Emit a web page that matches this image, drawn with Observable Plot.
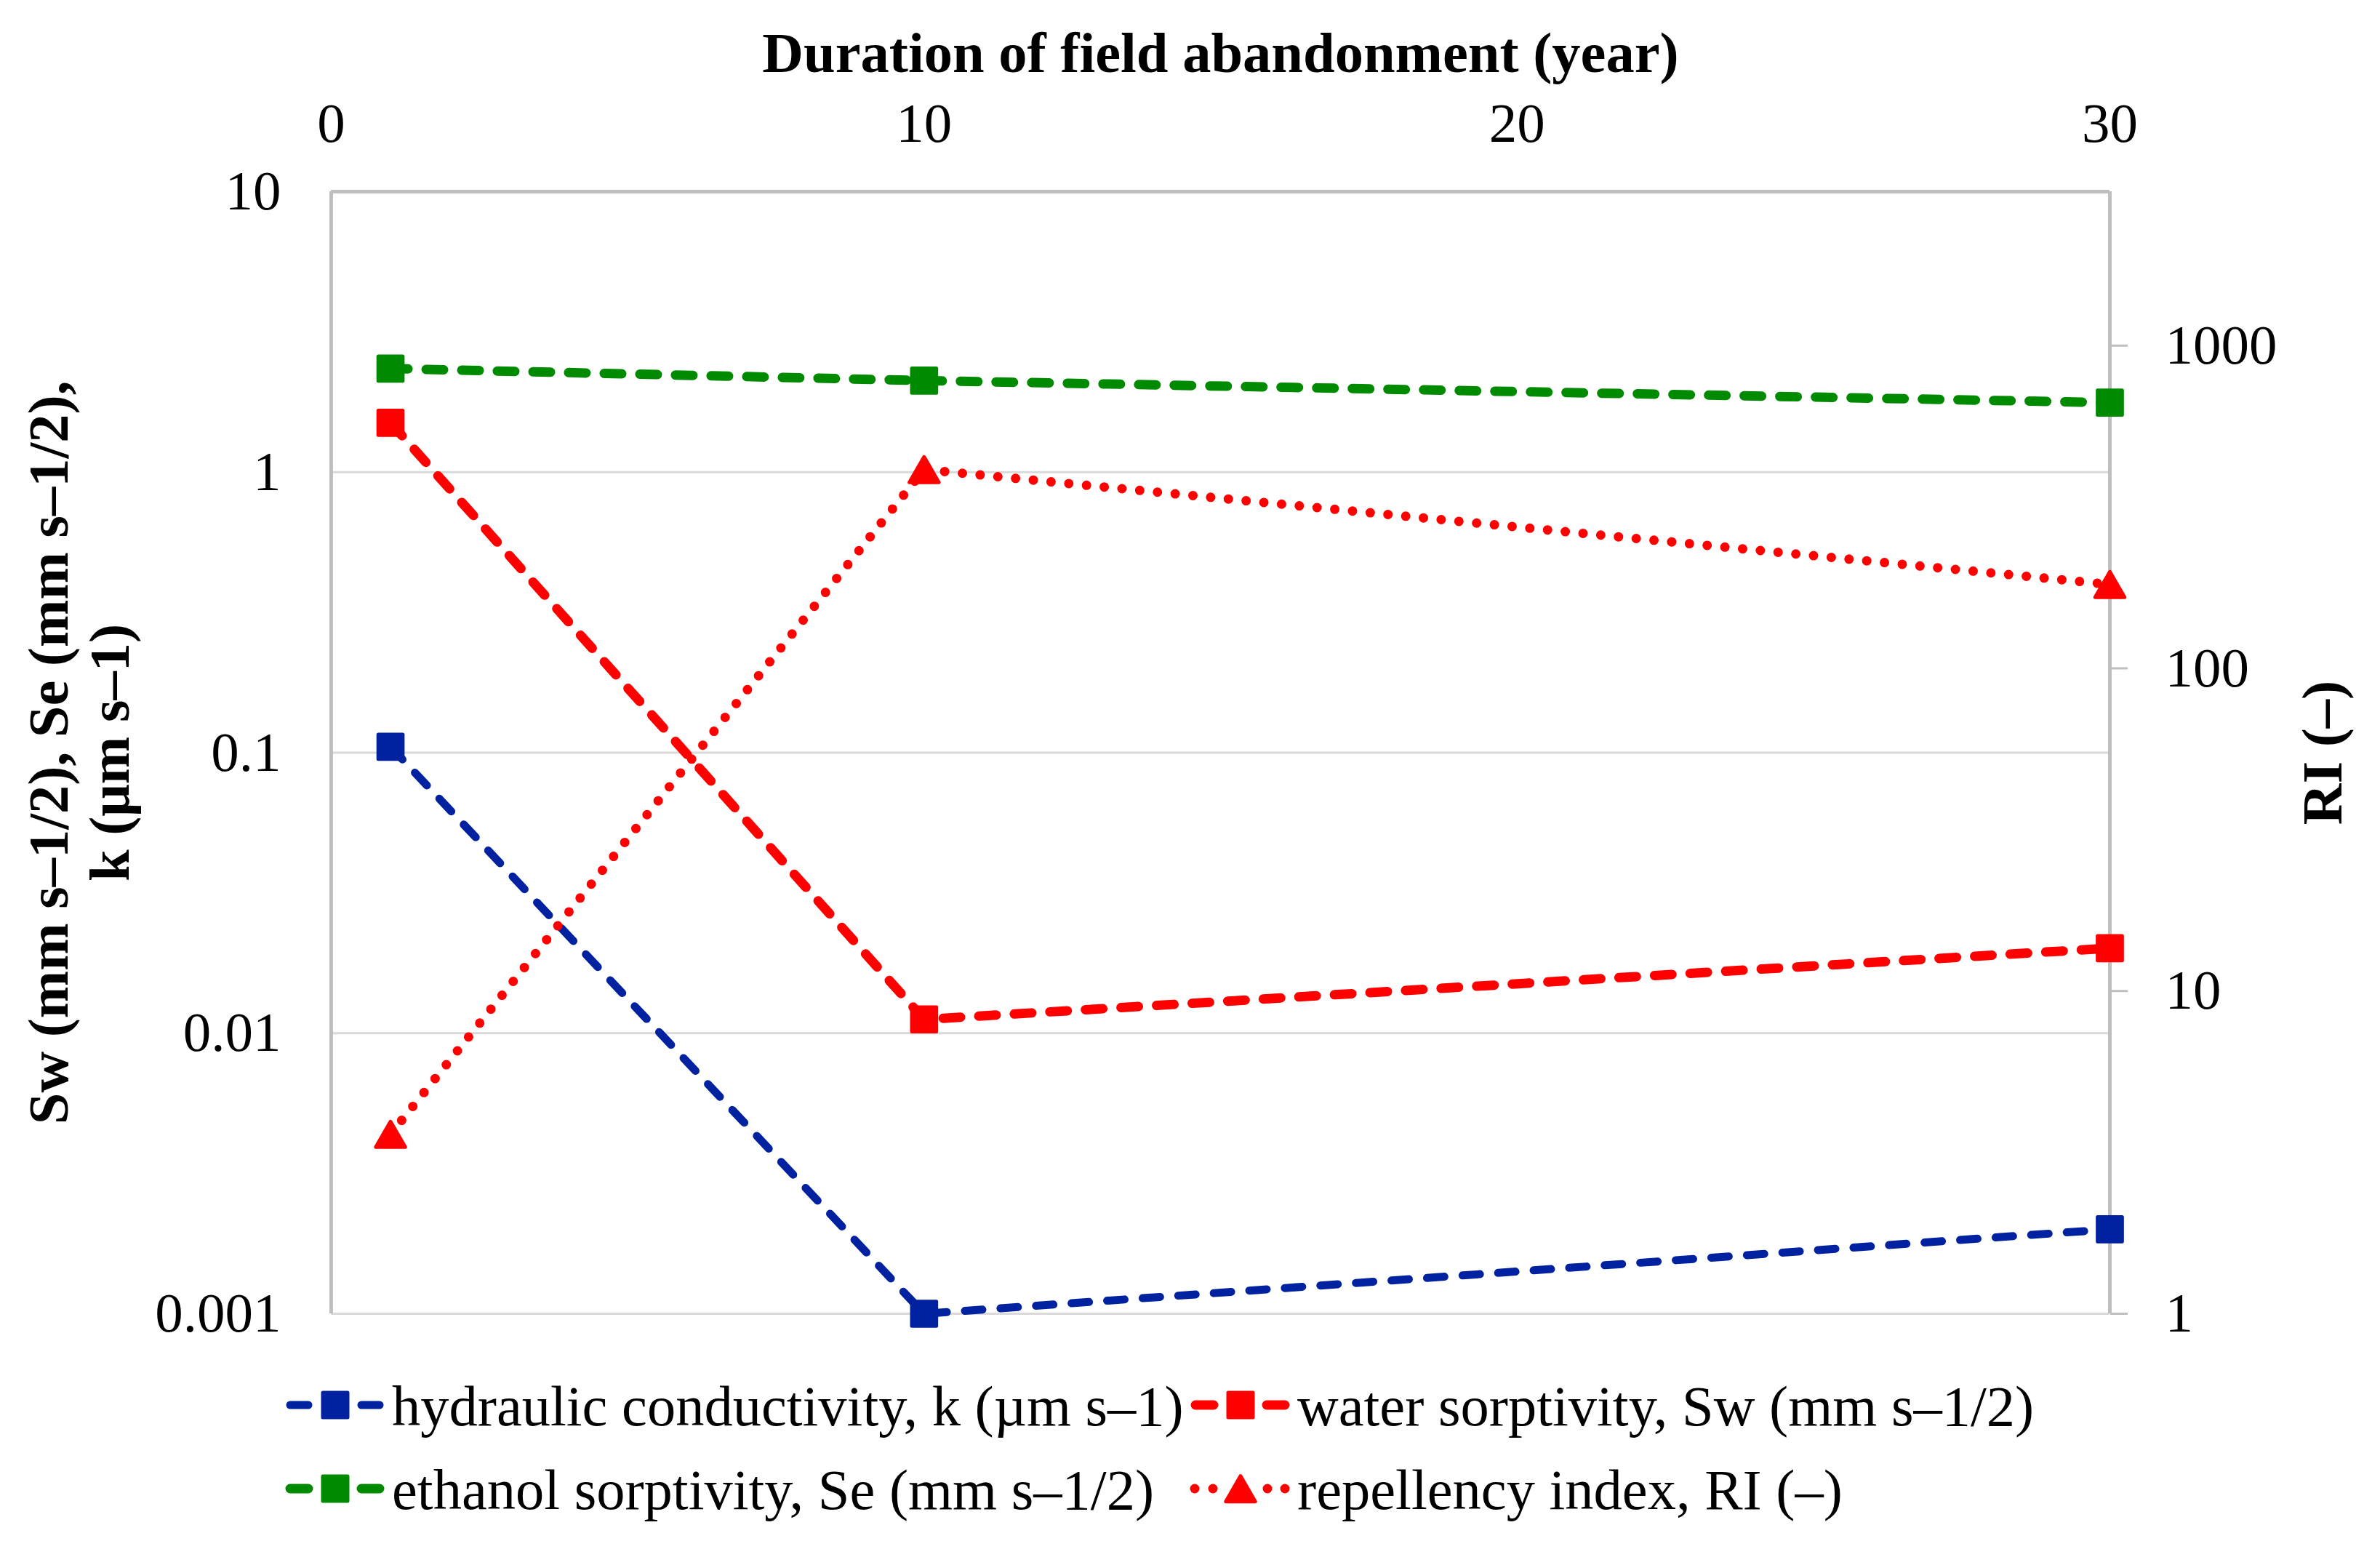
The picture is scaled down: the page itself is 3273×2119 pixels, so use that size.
<!DOCTYPE html>
<html><head><meta charset="utf-8">
<script src="https://cdn.jsdelivr.net/npm/d3@7"></script>
<script src="https://cdn.jsdelivr.net/npm/@observablehq/plot@0.6"></script>
<style>
html,body{margin:0;padding:0;background:#fff;}
#chart{width:3273px;height:2119px;position:relative;overflow:hidden;background:#fff;}
#chart svg{display:block;max-width:none;}
</style></head><body><div id="chart"></div>
<script>
// ---- data ----
const years = [1, 10, 30];
const kValues = [0.105, 0.001, 0.002];
const swValues = [1.5, 0.0112, 0.0201];
const seValues = [2.34, 2.12, 1.77];
const riValues = [3.6, 413, 182];
const xTicks = [0, 10, 20, 30];
const leftTicks = [0.001, 0.01, 0.1, 1, 10];
const rightTicks = [1, 10, 100, 1000];
const gridTicks = [0.001, 0.01, 0.1, 1];
const seriesNames = [
  "hydraulic conductivity, k (µm s–1)",
  "water sorptivity, Sw (mm s–1/2)",
  "ethanol sorptivity, Se (mm s–1/2)",
  "repellency index, RI (–)"
];
const xTitle = "Duration of field abandonment (year)";
const yLeftTitle = "Sw (mm s–1/2), Se (mm s–1/2),\nk (μm s–1)";
const yRightTitle = "RI (–)";
const leftDomain = [0.001, 10];
const rightDomain = [1, 3000];

const BLUE = "#0022A0", RED = "#FF0000", GREEN = "#008A00";
const AXIS = "#BFBFBF", GRID = "#D9D9D9";
const FONT = "'Liberation Serif','Times New Roman',serif";
const FS = 77, FS2 = 78.5;

// map right-axis (RI) values onto the left log scale
const lL0 = Math.log10(leftDomain[0]), lL1 = Math.log10(leftDomain[1]);
const lR0 = Math.log10(rightDomain[0]), lR1 = Math.log10(rightDomain[1]);
const toLeft = v => 10 ** (lL0 + (Math.log10(v) - lR0) * (lL1 - lL0) / (lR1 - lR0));

const rows = vals => years.map((x, i) => ({x, y: vals[i]}));
const kData = rows(kValues), swData = rows(swValues), seData = rows(seValues);
const riData = years.map((x, i) => ({x, y: toLeft(riValues[i])}));

const DASH = "24,25", DOT = "0,24.5";
const sq = (data, color) => Plot.dot(data, {x: "x", y: "y", symbol: "square", r: 19, fill: color, stroke: color, strokeWidth: 5, strokeLinejoin: "round"});

const plot = Plot.plot({
  width: 3273, height: 1880,
  marginLeft: 455, marginRight: 372, marginTop: 263, marginBottom: 74,
  style: {fontFamily: FONT, fontSize: FS + "px", color: "#000", background: "#fff", maxWidth: "none"},
  x: {domain: [0, 30]},
  y: {type: "log", domain: leftDomain},
  marks: [
    Plot.ruleY(gridTicks, {stroke: GRID, strokeWidth: 3}),
    Plot.ruleX([0, 30], {stroke: AXIS, strokeWidth: 5}),
    Plot.ruleY([leftDomain[1]], {stroke: AXIS, strokeWidth: 5}),
    Plot.axisX({anchor: "top", ticks: xTicks, tickSize: 0, tickPadding: 69, label: null, tickFormat: d => String(d)}),
    Plot.axisY({anchor: "left", ticks: leftTicks, tickSize: 0, tickPadding: 69, label: null, tickFormat: d => String(d)}),
    Plot.axisY({anchor: "right", ticks: rightTicks.map(toLeft), tickSize: 24, tickPadding: 52, stroke: AXIS, strokeWidth: 3, label: null,
      tickFormat: () => ""}),
    Plot.text(rightTicks, {y: d => toLeft(d), text: d => String(d), frameAnchor: "right", dx: 76, textAnchor: "start", lineAnchor: "middle", fontSize: FS}),
    Plot.line(kData, {x: "x", y: "y", stroke: BLUE, strokeWidth: 11, strokeDasharray: DASH, strokeLinecap: "round"}),
    Plot.line(swData, {x: "x", y: "y", stroke: RED, strokeWidth: 13, strokeDasharray: DASH, strokeLinecap: "round"}),
    Plot.line(seData, {x: "x", y: "y", stroke: GREEN, strokeWidth: 13, strokeDasharray: DASH, strokeLinecap: "round"}),
    Plot.line(riData, {x: "x", y: "y", stroke: RED, strokeWidth: 13, strokeDasharray: DOT, strokeLinecap: "round"}),
    sq(kData, BLUE), sq(swData, RED), sq(seData, GREEN),
    Plot.dot(riData, {x: "x", y: "y", symbol: "triangle", r: 15, dy: 6, fill: RED, stroke: RED, strokeWidth: 5, strokeLinejoin: "round"}),
    Plot.text([xTitle], {text: d => d, frameAnchor: "top", dy: -190, lineAnchor: "middle", textAnchor: "middle", fontWeight: "bold", fontSize: FS2}),
    Plot.text([yLeftTitle], {text: d => d, frameAnchor: "left", dx: -347, rotate: -90, lineAnchor: "middle", textAnchor: "middle", lineHeight: 1.07, fontWeight: "bold", fontSize: FS2}),
    Plot.text([yRightTitle], {text: d => d, frameAnchor: "right", dx: 293, rotate: -90, lineAnchor: "middle", textAnchor: "middle", fontWeight: "bold", fontSize: FS2})
  ]
});
const chart = document.getElementById("chart");
chart.appendChild(plot);

// ---- legend (below the plot SVG) ----
const legend = d3.create("svg").attr("width", 3273).attr("height", 239)
  .style("font-family", FONT).style("font-size", FS2 + "px").style("display", "block");
const items = [
  {name: seriesNames[0], color: BLUE, w: 11, kind: "dash", sym: "square"},
  {name: seriesNames[1], color: RED, w: 13, kind: "dash", sym: "square"},
  {name: seriesNames[2], color: GREEN, w: 13, kind: "dash", sym: "square"},
  {name: seriesNames[3], color: RED, w: 13, kind: "dot", sym: "triangle"}
];
const colX = [393, 1638], rowY = [52, 167];
items.forEach((it, i) => {
  const g = legend.append("g").attr("transform", `translate(${colX[i % 2]},${rowY[Math.floor(i / 2)]})`);
  if (it.kind === "dash") {
    [[6, 31], [104, 129]].forEach(([a, b]) => g.append("line").attr("x1", a).attr("x2", b).attr("y1", 0).attr("y2", 0)
      .attr("stroke", it.color).attr("stroke-width", it.w).attr("stroke-linecap", "round"));
  } else {
    [5, 30, 105, 129].forEach(cx => g.append("circle").attr("cx", cx).attr("cy", 0).attr("r", 6.5).attr("fill", it.color));
  }
  if (it.sym === "square") {
    g.append("rect").attr("x", 68 - 17).attr("y", -17).attr("width", 34).attr("height", 34)
      .attr("fill", it.color).attr("stroke", it.color).attr("stroke-width", 5).attr("stroke-linejoin", "round");
  } else {
    g.append("path").attr("transform", "translate(68,6)").attr("d", d3.symbol(d3.symbolTriangle, Math.PI * 15 * 15)())
      .attr("fill", it.color).attr("stroke", it.color).attr("stroke-width", 5).attr("stroke-linejoin", "round");
  }
  g.append("text").attr("x", 146).attr("y", 28).text(it.name);
});
chart.appendChild(legend.node());
</script>
</body></html>
